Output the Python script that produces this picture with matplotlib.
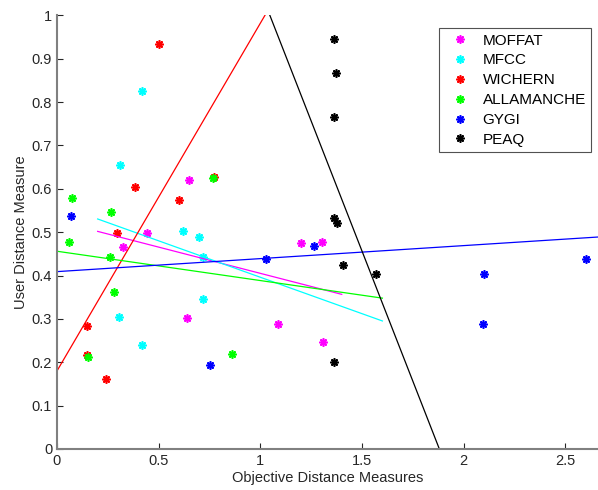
import numpy as np
import matplotlib
matplotlib.use("Agg")
import matplotlib.pyplot as plt

plt.rcParams['font.family'] = ['Liberation Sans', 'DejaVu Sans']

# measured points per method (objective distance, user distance)
names = ['MOFFAT', 'MFCC', 'WICHERN', 'ALLAMANCHE', 'GYGI', 'PEAQ']
colors = ['#ff00ff', '#00ffff', '#ff0000', '#00ff00', '#0000ff', '#000000']

moffat_x = [0.649, 0.324, 0.442, 0.639, 1.199, 1.302, 1.086, 1.307]
moffat_y = [0.620, 0.465, 0.498, 0.302, 0.474, 0.477, 0.288, 0.247]

mfcc_x = [0.42, 0.31, 0.62, 0.70, 0.72, 0.72, 0.305, 0.418]
mfcc_y = [0.825, 0.654, 0.502, 0.488, 0.443, 0.346, 0.304, 0.240]

wichern_x = [0.50, 0.384, 0.60, 0.77, 0.295, 0.147, 0.147, 0.24]
wichern_y = [0.933, 0.604, 0.575, 0.627, 0.498, 0.283, 0.217, 0.161]

allam_x = [0.073, 0.265, 0.767, 0.059, 0.262, 0.28, 0.152, 0.86]
allam_y = [0.579, 0.547, 0.624, 0.477, 0.443, 0.362, 0.212, 0.219]

gygi_x = [0.069, 0.752, 1.027, 1.263, 2.098, 2.093, 2.60]
gygi_y = [0.537, 0.194, 0.437, 0.467, 0.403, 0.288, 0.437]

peaq_x = [1.361, 1.371, 1.361, 1.361, 1.376, 1.405, 1.568, 1.361]
peaq_y = [0.946, 0.868, 0.765, 0.532, 0.520, 0.424, 0.403, 0.200]

xs = [moffat_x, mfcc_x, wichern_x, allam_x, gygi_x, peaq_x]
ys = [moffat_y, mfcc_y, wichern_y, allam_y, gygi_y, peaq_y]

# fitted lines: intercept, slope, x start, x end
fit_intercept = [0.526, 0.564, 0.18, 0.456, 0.409, 2.256]
fit_slope = [-0.121, -0.168, 0.802, -0.0676, 0.030, -1.20]
fit_x0 = [0.20, 0.20, 0.0, 0.0, 0.0, 0.0]
fit_x1 = [1.40, 1.60, 2.66, 1.60, 2.66, 2.66]

fig = plt.figure(figsize=(5.98, 4.90), dpi=100)
ax = fig.add_axes([0.0953, 0.0837, 0.9047, 0.885])

star = (8, 2, 0)
for i in range(len(names)):
    ax.plot(xs[i], ys[i], linestyle='none', marker=star, color=colors[i],
            markersize=6, markeredgewidth=1.2, label=names[i])

for i in range(len(names)):
    lx = np.array([fit_x0[i], fit_x1[i]])
    ax.plot(lx, fit_intercept[i] + fit_slope[i] * lx, color=colors[i], linewidth=0.9)

ax.set_xlim(0, 2.66)
ax.set_ylim(0, 1)
ax.set_xticks([0, 0.5, 1, 1.5, 2, 2.5])
ax.set_xticklabels(['0', '0.5', '1', '1.5', '2', '2.5'])
ax.set_yticks(np.arange(0, 1.01, 0.1))
ax.set_yticklabels(['0', '0.1', '0.2', '0.3', '0.4', '0.5', '0.6', '0.7', '0.8', '0.9', '1'])

for s in ['top', 'right']:
    ax.spines[s].set_visible(False)
for s in ['left', 'bottom']:
    ax.spines[s].set_color('#808080')
    ax.spines[s].set_linewidth(1.5)
ax.tick_params(direction='in', length=4, width=0.8, color='#262626',
               labelcolor='#262626', labelsize=10.5)

ax.set_xlabel('Objective Distance Measures', fontsize=10.5, color='#262626', labelpad=2)
ax.set_ylabel('User Distance Measure', fontsize=10.5, color='#262626', labelpad=3)

leg = ax.legend(loc='upper left', bbox_to_anchor=(0.706, 0.97), fontsize=11,
                frameon=True, fancybox=False, borderpad=0.35, labelspacing=0.38,
                handletextpad=0.5, handlelength=2.0, borderaxespad=0)
leg.get_frame().set_edgecolor('#262626')
leg.get_frame().set_linewidth(0.8)

fig.savefig('out.png', dpi=100)
